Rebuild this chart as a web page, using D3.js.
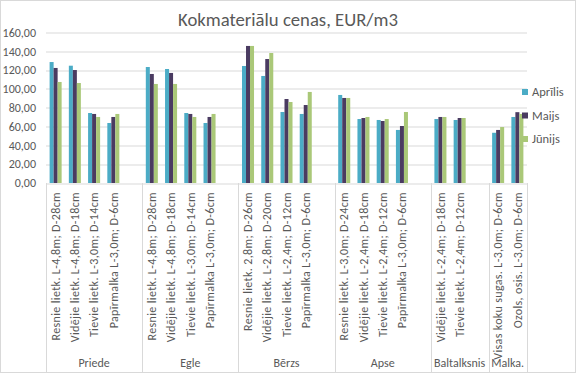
<!DOCTYPE html>
<html>
<head>
<meta charset="utf-8">
<script src="https://cdn.jsdelivr.net/npm/d3@7"></script>
<style>
  body { margin: 0; background: #fff; }
  svg text { font-family: Carlito, Calibri, "Liberation Sans", sans-serif; fill: #595959; }
</style>
</head>
<body>
<svg id="chart" width="576" height="373"></svg>
<script>
// species groups and their items ("" = empty spacer slot, as in the source sheet)
var groups = ["Priede", "Egle", "Bērzs", "Apse", "Baltalksnis", "Malka."];
var categories = [
  ["Priede", "Resnie lietk. L-4,8m; D-28cm"],
  ["Priede", "Vidējie lietk. L-4,8m; D-18cm"],
  ["Priede", "Tievie lietk. L-3,0m; D-14cm"],
  ["Priede", "Papīrmalka L-3,0m; D-6cm"],
  ["Priede", ""],
  ["Egle", "Resnie lietk. L-4,8m; D-28cm"],
  ["Egle", "Vidējie lietk. L-4,8m; D-18cm"],
  ["Egle", "Tievie lietk. L-3,0m; D-14cm"],
  ["Egle", "Papīrmalka L-3,0m; D-6cm"],
  ["Egle", ""],
  ["Bērzs", "Resnie lietk. 2,8m; D-26cm"],
  ["Bērzs", "Vidējie lietk. L-2,8m; D-20cm"],
  ["Bērzs", "Tievie lietk. L-2,4m; D-12cm"],
  ["Bērzs", "Papīrmalka L-3,0m; D-6cm"],
  ["Bērzs", ""],
  ["Apse", "Resnie lietk. L-3,0m; D-24cm"],
  ["Apse", "Vidējie lietk. L-2,4m; D-18cm"],
  ["Apse", "Tievie lietk. L-2,4m; D-12cm"],
  ["Apse", "Papīrmalka L-3,0m; D-6cm"],
  ["Apse", ""],
  ["Baltalksnis", "Vidējie lietk. L-2,4m; D-18cm"],
  ["Baltalksnis", "Tievie lietk. L-2,4m; D-12cm"],
  ["Baltalksnis", ""],
  ["Malka.", "Visas koku sugas. L-3,0m; D-6cm"],
  ["Malka.", "Ozols, osis. L-3,0m; D-6cm"]
];

var series = ["Aprīlis", "Maijs", "Jūnijs"];
var aprilis = [128.6, 124.7, 74.4, 63.8, null, 123.3, 121.2, 74.4, 63.8, null, 124.4, 113.8, 75.5, 73.4, null, 93.6, 68.0, 67.0, 56.4, null, 68.0, 67.0, null, 53.4, 70.2];
var maijs   = [122.3, 120.1, 73.4, 70.2, null, 115.9, 117.0, 73.4, 70.2, null, 145.7, 131.8, 89.3, 82.9, null, 90.4, 69.1, 65.9, 60.6, null, 70.2, 69.1, null, 56.4, 75.3];
var junijs  = [107.4, 106.3, 70.2, 73.4, null, 105.3, 105.3, 70.2, 73.4, null, 145.7, 138.2, 86.1, 96.8, null, 90.4, 70.2, 68.0, 75.5, null, 70.2, 69.1, null, 59.5, 73.4];
var yTicks = [0, 20, 40, 60, 80, 100, 120, 140, 160];

var colors = ["#4bacc6", "#4a3b61", "#aac878"];
var values = [aprilis, maijs, junijs];

var svg = d3.select("#chart"),
    W = 576, H = 373,
    margin = {top: 32.5, right: 49, bottom: 190, left: 46},
    width = W - margin.left - margin.right,
    height = H - margin.top - margin.bottom;

// chart border
svg.append("rect")
  .attr("x", 0.5).attr("y", 0.5)
  .attr("width", W - 1).attr("height", H - 1)
  .attr("fill", "#fff").attr("stroke", "#d9d9d9");

svg.append("text")
  .attr("x", W / 2).attr("y", 26)
  .attr("text-anchor", "middle")
  .style("font-size", "18.7px")
  .text("Kokmateriālu cenas, EUR/m3");

var g = svg.append("g").attr("transform", "translate(" + margin.left + "," + margin.top + ")");

var x = d3.scaleBand()
  .domain(d3.range(categories.length))
  .range([0, width])
  .padding(0);

var xs = d3.scaleBand()
  .domain(series)
  .range([0, x.bandwidth()])
  .paddingInner(0)
  .paddingOuter(0.9);

var y = d3.scaleLinear()
  .domain([0, 160])
  .range([height, 0]);

var fmt = function(d) { return d3.format(".2f")(d).replace(".", ","); };

// gridlines + y labels
g.append("g")
  .selectAll("line")
  .data(yTicks.slice(1))
  .join("line")
  .attr("x1", 0).attr("x2", width)
  .attr("y1", d => Math.round(y(d)) + 0.5).attr("y2", d => Math.round(y(d)) + 0.5)
  .attr("stroke", "#d9d9d9");

g.append("g")
  .selectAll("text")
  .data(yTicks)
  .join("text")
  .attr("x", -10)
  .attr("y", d => y(d))
  .attr("dy", "0.35em")
  .attr("text-anchor", "end")
  .style("font-size", "12px")
  .text(fmt);

// bars
series.forEach((s, si) => {
  g.append("g")
    .attr("fill", colors[si])
    .selectAll("rect")
    .data(values[si].map((v, i) => ({i: i, v: v})).filter(d => d.v != null))
    .join("rect")
    .attr("x", d => x(d.i) + xs(s))
    .attr("width", xs.bandwidth())
    .attr("y", d => y(d.v))
    .attr("height", d => y(0) - y(d.v));
});

// x axis line
g.append("line")
  .attr("x1", 0).attr("x2", width)
  .attr("y1", Math.round(height) + 0.5).attr("y2", Math.round(height) + 0.5)
  .attr("stroke", "#d9d9d9");

// group dividers
var bounds = [0];
groups.forEach(gr => {
  var idx = categories.map(c => c[0]).lastIndexOf(gr);
  bounds.push(x(idx) + x.bandwidth());
});

g.append("g")
  .selectAll("line")
  .data(bounds)
  .join("line")
  .attr("x1", d => Math.round(d) + 0.5).attr("x2", d => Math.round(d) + 0.5)
  .attr("y1", height).attr("y2", H - margin.top - 1)
  .attr("stroke", "#d9d9d9");

// item labels (rotated)
g.append("g")
  .selectAll("text")
  .data(categories.map((c, i) => ({i: i, t: c[1]})).filter(d => d.t))
  .join("text")
  .attr("transform", d => "translate(" + (x(d.i) + x.bandwidth() / 2) + "," + (height + 9) + ") rotate(-90)")
  .attr("text-anchor", "end")
  .attr("dy", "0.35em")
  .style("font-size", "12px")
  .style("letter-spacing", "0.35px")
  .text(d => d.t);

// group labels
g.append("g")
  .selectAll("text")
  .data(groups)
  .join("text")
  .attr("x", (d, i) => (bounds[i] + bounds[i + 1]) / 2)
  .attr("y", H - margin.top - 6)
  .attr("text-anchor", "middle")
  .style("font-size", "12px")
  .text(d => d);

// legend
var legend = svg.append("g")
  .selectAll("g")
  .data(series)
  .join("g")
  .attr("transform", (d, i) => "translate(522," + (92 + i * 23.5) + ")");

legend.append("rect")
  .attr("x", 0).attr("y", -3)
  .attr("width", 6).attr("height", 6)
  .attr("fill", (d, i) => colors[i]);

legend.append("text")
  .attr("x", 10).attr("dy", "0.35em")
  .style("font-size", "12.5px")
  .text(d => d);
</script>
</body>
</html>
